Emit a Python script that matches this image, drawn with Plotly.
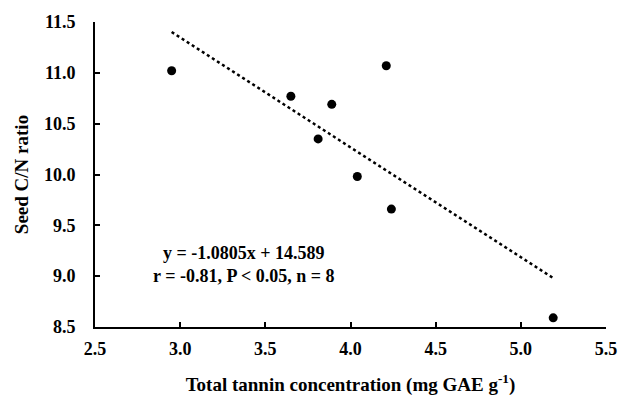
import plotly.graph_objects as go

tannin = [2.95, 3.65, 3.81, 3.89, 4.04, 4.21, 4.24, 5.19]
cn_ratio = [11.02, 10.77, 10.35, 10.69, 9.98, 11.07, 9.66, 8.59]
slope = -1.0805
intercept = 14.589
fit_x = [min(tannin), max(tannin)]
fit_y = [slope * v + intercept for v in fit_x]
x_ticks = [2.5, 3.0, 3.5, 4.0, 4.5, 5.0, 5.5]
y_ticks = [8.5, 9.0, 9.5, 10.0, 10.5, 11.0, 11.5]

font = "'Liberation Serif', 'Times New Roman', serif"

fig = go.Figure()
fig.add_trace(go.Scatter(x=fit_x, y=fit_y, mode="lines",
                         line=dict(color="black", width=2.5, dash="dot"),
                         showlegend=False, hoverinfo="skip"))
fig.add_trace(go.Scatter(x=tannin, y=cn_ratio, mode="markers",
                         marker=dict(color="black", size=9),
                         showlegend=False))

fig.add_annotation(x=3.37, y=9.11, xref="x", yref="y", showarrow=False,
                   text="<b>y = -1.0805x + 14.589<br>r = -0.81, P < 0.05, n = 8</b>",
                   font=dict(family=font, size=18, color="black"), align="center")

fig.update_layout(
    width=621, height=397,
    margin=dict(l=95, r=15, t=22, b=70),
    plot_bgcolor="white", paper_bgcolor="white",
    font=dict(family=font, size=17, color="black"),
    xaxis=dict(range=[2.5, 5.5], tickvals=x_ticks, automargin=False,
               ticktext=[f"<b>{v:.1f}</b>" for v in x_ticks],
               showgrid=False, zeroline=False, showline=True,
               linecolor="black", linewidth=2, ticks="inside", ticklen=5,
               tickwidth=1.5, tickcolor="black", ticklabelstandoff=4,
               tickfont=dict(family=font, size=18, color="black"),
               title=dict(text="<b>Total tannin concentration (mg GAE g<sup>-1</sup>)</b>",
                          font=dict(family=font, size=19, color="black"),
                          standoff=20)),
    yaxis=dict(range=[8.5, 11.5], tickvals=y_ticks, automargin=False,
               ticktext=[f"<b>{v:.1f}</b>" for v in y_ticks],
               showgrid=False, zeroline=False, showline=True,
               linecolor="black", linewidth=2, ticks="inside", ticklen=5,
               tickwidth=1.5, tickcolor="black", ticklabelstandoff=14,
               tickfont=dict(family=font, size=18, color="black"),
               title=dict(text="<b>Seed C/N ratio</b>",
                          font=dict(family=font, size=19, color="black"),
                          standoff=10)),
)

fig.write_html("out.html")
